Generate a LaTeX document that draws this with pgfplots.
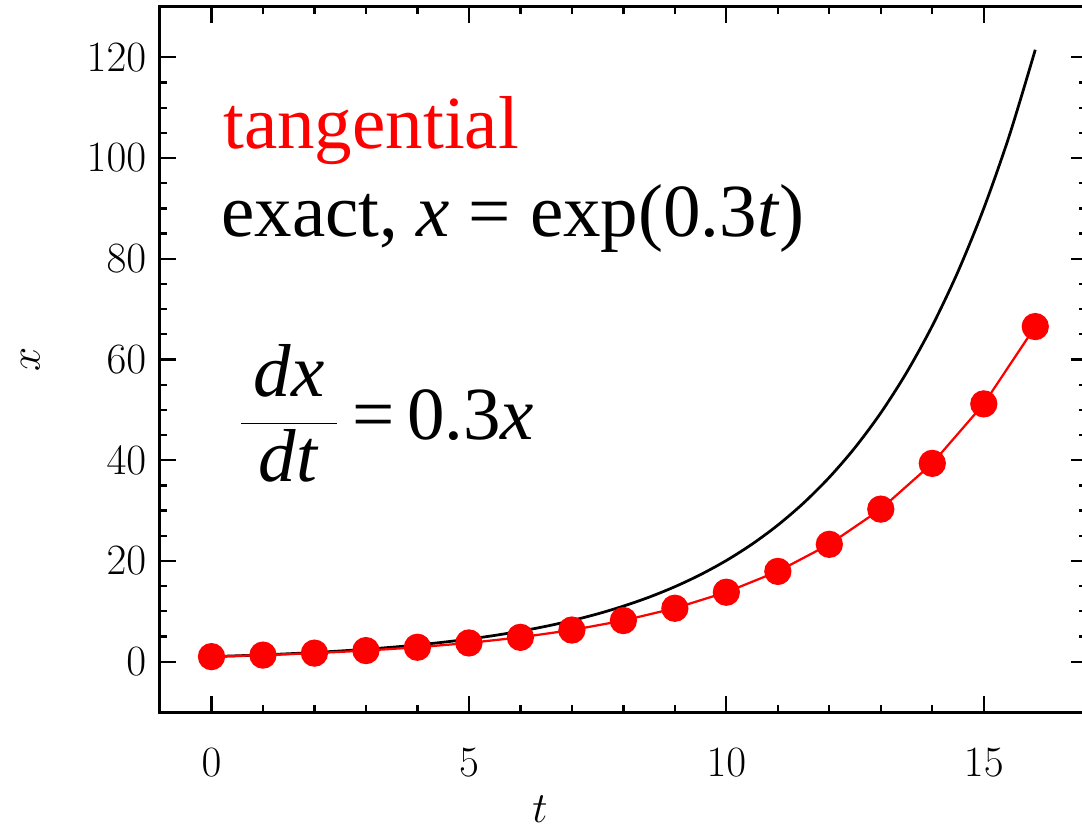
\documentclass[border=0pt]{standalone}
\usepackage{fontspec}
\setmainfont{Liberation Serif}
\usepackage{pgfplots}
\pgfplotsset{compat=1.18}
\begin{document}
\begin{tikzpicture}
\begin{axis}[
  scale only axis,
  width=370.7pt, height=282pt,
  xmin=-1, xmax=17, ymin=-10, ymax=130,
  xtick={0,5,10,15}, ytick={0,20,40,60,80,100,120},
  minor x tick num=4, minor y tick num=3,
  tick align=inside,
  major tick length=6.5pt, minor tick length=3pt,
  every tick/.style={black, line width=0.9pt},
  axis line style={line width=1.2pt},
  tick label style={font=\fontsize{17}{17}\selectfont},
  xticklabel style={yshift=-11pt},
  yticklabel style={xshift=-2pt},
  xlabel={$t$}, ylabel={$x$},
  label style={font=\fontsize{17}{17}\selectfont},
  xlabel style={at={(rel axis cs:0.41,0)}, anchor=north, yshift=-30pt},
  ylabel style={yshift=12pt},
  clip=false,
]
\addplot[black, line width=1.1pt, smooth] coordinates {
(0,1) (0.5,1.1618) (1,1.3499) (1.5,1.5683) (2,1.8221) (2.5,2.117) (3,2.4596) (3.5,2.8577)
(4,3.3201) (4.5,3.8574) (5,4.4817) (5.5,5.207) (6,6.0496) (6.5,7.0287) (7,8.1662) (7.5,9.4877)
(8,11.0232) (8.5,12.8071) (9,14.8797) (9.5,17.2878) (10,20.0855) (10.5,23.3361) (11,27.1126)
(11.5,31.5004) (12,36.5982) (12.5,42.5211) (13,49.4024) (13.5,57.3975) (14,66.6863)
(14.5,77.4785) (15,90.0171) (15.5,104.585) (16,121.510)
};
\addplot[red, line width=0.9pt, mark=*, mark size=5pt, mark options={fill=red, draw=red}] coordinates {
(0,1) (1,1.3) (2,1.69) (3,2.197) (4,2.8561) (5,3.71293) (6,4.82681) (7,6.27485) (8,8.15731)
(9,10.6045) (10,13.7858) (11,17.9216) (12,23.2981) (13,30.2875) (14,39.3738) (15,51.1859) (16,66.5417)
};
\end{axis}
\node[anchor=base west, inner sep=0pt, text=red, font=\fontsize{30}{30}\selectfont] at (25.1pt,225.2pt) {tangential};
\node[anchor=base west, inner sep=0pt, font=\fontsize{30}{30}\selectfont] at (24.3pt,190pt) {exact, \textit{x} = exp(0.3\textit{t})};
\node[anchor=base west, inner sep=0pt, font=\fontsize{30}{30}\selectfont] at (31pt,109.2pt) {$\displaystyle\frac{\mbox{\,\textit{dx}\,}}{\mbox{\,\textit{dt}\,}}\mbox{\,=\,0.3\textit{x}}$};
\pgfresetboundingbox
\path[use as bounding box] (-64pt,-47.2pt) rectangle (368.8pt,284.8pt);
\end{tikzpicture}
\end{document}
